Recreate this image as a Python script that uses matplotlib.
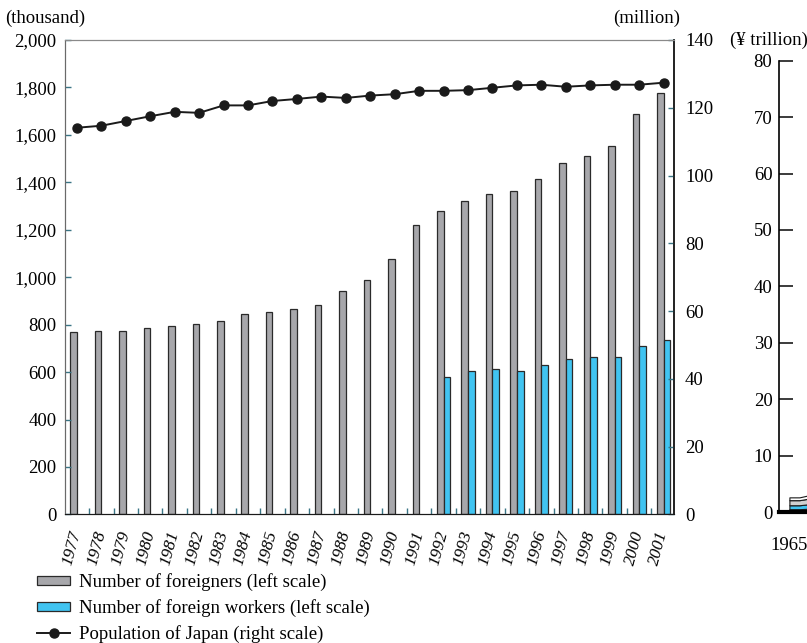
import numpy as np
import matplotlib
matplotlib.use("Agg")
import matplotlib.pyplot as plt
from matplotlib.patches import Patch
from matplotlib.lines import Line2D

plt.rcParams['font.family'] = ['Liberation Serif', 'DejaVu Serif']
plt.rcParams['font.size'] = 13.5

# Foreign residents, foreign workers (thousand) and population of Japan (million)
years = list(range(1977, 2002))
foreigners = [769, 772, 775, 785, 796, 803, 817, 844, 852, 866, 884, 943, 987,
              1077, 1220, 1281, 1321, 1352, 1362, 1415, 1483, 1512, 1554, 1686, 1778]
worker_years = list(range(1992, 2002))
workers = [580, 606, 614, 606, 629, 655, 665, 665, 708, 736]
population = [114.1, 114.7, 116.1, 117.5, 118.8, 118.5, 120.7, 120.7, 122.0, 122.6,
              123.3, 122.9, 123.6, 124.0, 125.0, 125.0, 125.2, 125.9, 126.6, 126.8,
              126.2, 126.6, 126.8, 126.8, 127.4]

# Neighbouring panel (¥ trillion), only its first years fit on the page
side_years = [1965, 1966, 1967, 1968, 1969, 1970]
side_base = [0.5, 0.5, 0.6, 0.6, 0.7, 0.7]
side_blue = [0.7, 0.7, 0.8, 0.8, 0.9, 1.0]
side_gray = [0.9, 0.9, 1.0, 1.1, 1.2, 1.3]
side_top = [0.5, 0.5, 0.6, 0.6, 0.7, 0.7]

gray = '#a7a7ab'
blue = '#41c4f1'
teal = '#3a7585'

fig = plt.figure(figsize=(8.07, 6.43), dpi=100)
ax = fig.add_axes([0.0805, 0.2, 0.7545, 0.7378])
ax2 = ax.twinx()

x = np.arange(len(years))
w = 0.27
ax.bar(x, foreigners, width=-w, align='edge', color=gray, edgecolor='#2a2a2a', linewidth=0.9)
xw = np.array([years.index(y) for y in worker_years])
ax.bar(xw, workers, width=w, align='edge', color=blue, edgecolor='#2a2a2a', linewidth=0.9)

ax2.plot(x, population, color='#1a1a1a', lw=1.4, marker='o', ms=6.5)

ax.set_xlim(-0.49, 24.42)
ax.set_ylim(0, 2000)
ax2.set_ylim(0, 140)

ax.set_yticks(range(0, 2001, 200))
ax.set_yticklabels([f'{v:,}' for v in range(0, 2001, 200)])
ax2.set_yticks(range(0, 141, 20))

ax.set_xticks(x)
ax.set_xticklabels([str(y) for y in years], rotation=75, ha='right', va='center',
                   rotation_mode='anchor', style='italic', fontsize=12.5)
ax.set_xticks(x[:-1] + 0.5, minor=True)
ax.tick_params(axis='x', which='major', length=0, pad=12)
ax.tick_params(axis='x', which='minor', direction='in', length=4, color=teal, width=1)
ax.tick_params(axis='y', direction='in', length=4, color=teal, width=1, pad=6)
ax2.tick_params(axis='y', direction='in', length=4, color=teal, width=1, pad=8)

for a in (ax, ax2):
    a.spines['top'].set_color('#8a8a8a')
    a.spines['left'].set_color('#6a6a6a')
    a.spines['right'].set_color('#1a1a1a')
    a.spines['bottom'].set_color('#1a1a1a')
    a.spines['right'].set_linewidth(1.1)

fig.text(0.006, 0.971, '(thousand)', ha='left', va='center')
fig.text(0.843, 0.971, '(million)', ha='right', va='center')
fig.text(0.905, 0.938, '(¥ trillion)', ha='left', va='center')

# neighbouring stacked chart, cut off at the page edge
ax3 = fig.add_axes([0.9657, 0.2037, 0.5, 0.7019])
ax3.stackplot(side_years, side_base, side_blue, side_gray, side_top,
              colors=['#1a1a1a', blue, '#d0d0d0', 'white'],
              edgecolor='#1a1a1a', linewidth=0.8)
ax3.set_xlim(1964, 2004)
ax3.set_ylim(0, 80)
ax3.set_yticks(range(0, 81, 10))
ax3.set_xticks([1965])
ax3.tick_params(axis='y', direction='in', length=10, width=1.2, color='#1a1a1a', pad=5)
ax3.tick_params(axis='x', length=0, pad=18)
for s in ('top', 'right'):
    ax3.spines[s].set_visible(False)
ax3.spines['left'].set_linewidth(1.2)
ax3.spines['bottom'].set_linewidth(3)

handles = [Patch(facecolor=gray, edgecolor='#2a2a2a', linewidth=0.9),
           Patch(facecolor=blue, edgecolor='#2a2a2a', linewidth=0.9),
           Line2D([], [], color='#1a1a1a', lw=1.4, marker='o', ms=6.5)]
labels = ['Number of foreigners (left scale)',
          'Number of foreign workers (left scale)',
          'Population of Japan (right scale)']
fig.legend(handles, labels, loc='upper left', bbox_to_anchor=(0.046, 0.108),
           frameon=False, handlelength=1.76, handleheight=0.4, labelspacing=0.42,
           borderaxespad=0, borderpad=0, handletextpad=0.48)

fig.savefig('out.png', dpi=100)
